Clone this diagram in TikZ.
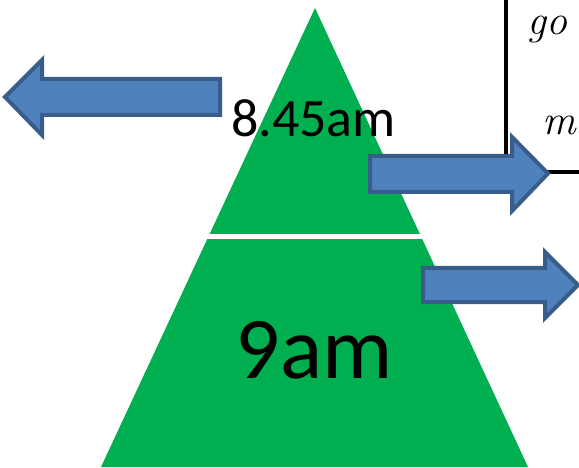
\documentclass[tikz,border=0pt]{standalone}
\usepackage{fontspec}
\newfontfamily\calib{Carlito}
\definecolor{tgreen}{HTML}{00B050}
\definecolor{afill}{HTML}{4F81BD}
\definecolor{aline}{HTML}{385D8A}
\tikzset{
  blockarrow/.style={fill=afill, draw=aline, line width=4pt, line join=miter},
  boxline/.style={draw=black, line width=3.5pt},
  timelabel/.style={anchor=base, inner sep=0pt, text=black},
  handtext/.style={anchor=base west, inner sep=0pt, font=\fontsize{42}{46}\selectfont\itshape},
}
\begin{document}
\begin{tikzpicture}[x=1pt,y=-1pt]
\useasboundingbox (0,0) rectangle (579,468);
\clip (0,0) rectangle (579,468);
% box at top right
\coordinate (bt) at (506,-10);
\coordinate (bc) at (506,172);
\coordinate (br) at (590,172);
\draw[boxline] (bt) -- (bc) -- (br);
\node[handtext] (go) at (527,35) {go};
\node[handtext] (m) at (542,135) {m};
% triangle
\fill[tgreen] (315,8) -- (528,467) -- (101,467) -- cycle;
\coordinate (wl) at (180,237);
\coordinate (wr) at (450,237);
\draw[white, line width=5pt] (wl) -- (wr);
\node[timelabel, font=\calib\fontsize{54}{60}\selectfont] (t1) at (313.5,137) {8.45am};
\node[timelabel, font=\calib\fontsize{88}{96}\selectfont] (t2) at (314.5,378) {9am};
% arrows
\draw[blockarrow] (5,97) -- (42,60) -- (42,79) -- (220,79) -- (220,115) -- (42,115) -- (42,135) -- cycle;
\draw[blockarrow] (370,156) -- (512,156) -- (512,137) -- (548,173.5) -- (512,211) -- (512,192) -- (370,192) -- cycle;
\draw[blockarrow] (423,268) -- (545,268) -- (545,252) -- (578,285) -- (545,318) -- (545,302) -- (423,302) -- cycle;
\end{tikzpicture}
\end{document}
